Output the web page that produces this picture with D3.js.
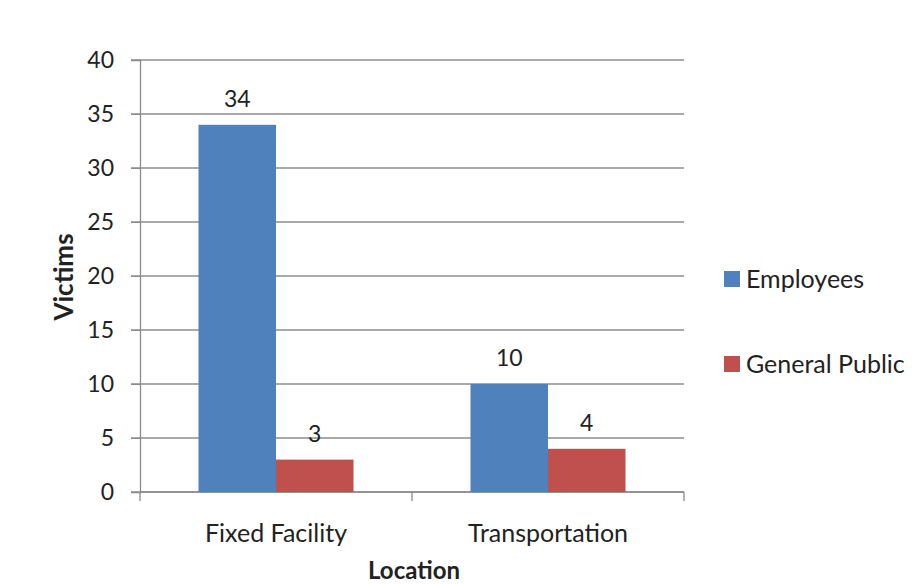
<!DOCTYPE html>
<html><head><meta charset="utf-8">
<script src="https://cdn.jsdelivr.net/npm/d3@7"></script>
<style>body{margin:0;background:#fff;} text{font-family:Lato,"Open Sans",sans-serif;fill:#222;}</style>
</head><body><svg id="c" width="919" height="584"></svg>
<script>
const categories = ["Fixed Facility", "Transportation"];
const seriesNames = ["Employees", "General Public"];
const employees = [34, 10];
const generalPublic = [3, 4];
const yTicks = [0, 5, 10, 15, 20, 25, 30, 35, 40];
const colors = ["#4F81BD", "#C0504D"];

const values = [employees, generalPublic];
const svg = d3.select("#c");
const L = 140, R = 684, T = 60, B = 492;
const y = d3.scaleLinear().domain([0, 40]).range([B, T]);
const x0 = d3.scaleBand().domain(categories).range([L, R]).padding(0);
const x1 = d3.scaleBand().domain(seriesNames).range([0, x0.bandwidth()]).paddingInner(0).paddingOuter(0.755);

// gridlines
svg.append("g").selectAll("line").data(yTicks).join("line")
  .attr("x1", L - 9).attr("x2", R).attr("y1", d => y(d)).attr("y2", d => y(d))
  .attr("stroke", "#8c8c8c").attr("stroke-width", 1.3);

// y axis
const ya = svg.append("g").attr("transform", `translate(${L},0)`)
  .call(d3.axisLeft(y).tickValues(yTicks).tickSize(9).tickPadding(17));
ya.select(".domain").attr("stroke", "#8c8c8c").attr("stroke-width", 1.3);
ya.selectAll(".tick line").attr("stroke", "#8c8c8c");
ya.selectAll("text").style("font-size", "23px").attr("fill", "#222");

// x axis
const xa = svg.append("g").attr("transform", `translate(0,${B})`)
  .call(d3.axisBottom(x0).tickSize(0).tickPadding(0));
xa.select(".domain").remove();
xa.selectAll("text").attr("y", 50).attr("dy", null).style("font-size", "25px").attr("fill", "#222");
const bounds = [L].concat(categories.map(c => x0(c) + x0.bandwidth()));
svg.append("g").selectAll("line").data(bounds).join("line")
  .attr("x1", d => d).attr("x2", d => d).attr("y1", B).attr("y2", B + 9)
  .attr("stroke", "#8c8c8c").attr("stroke-width", 1.3);
svg.append("line").attr("x1", L).attr("x2", R).attr("y1", B).attr("y2", B)
  .attr("stroke", "#8c8c8c").attr("stroke-width", 1.3);

// bars
const g = svg.append("g");
seriesNames.forEach((s, si) => {
  categories.forEach((c, ci) => {
    const v = values[si][ci];
    const bx = x0(c) + x1(s);
    g.append("rect").attr("x", bx).attr("y", y(v)).attr("width", x1.bandwidth())
      .attr("height", y(0) - y(v)).attr("fill", colors[si]);
    g.append("text").attr("x", bx + x1.bandwidth() / 2).attr("y", y(v) - 18)
      .attr("text-anchor", "middle").style("font-size", "23px").text(v);
  });
});

// axis titles
svg.append("text").attr("transform", "translate(73,277) rotate(-90)")
  .attr("text-anchor", "middle").style("font-size", "26px").style("font-weight", "bold").attr("fill", "#000").text("Victims");
svg.append("text").attr("x", 414).attr("y", 579)
  .attr("text-anchor", "middle").style("font-size", "24px").style("font-weight", "bold").attr("fill", "#000").text("Location");

// legend
const lg = svg.append("g");
seriesNames.forEach((s, i) => {
  const ly = 279 + i * 85;
  lg.append("rect").attr("x", 724).attr("y", ly - 8).attr("width", 16).attr("height", 16).attr("fill", colors[i]);
  lg.append("text").attr("x", 746).attr("y", ly).attr("dy", "0.35em").style("font-size", "25px").text(s);
});
</script></body></html>
